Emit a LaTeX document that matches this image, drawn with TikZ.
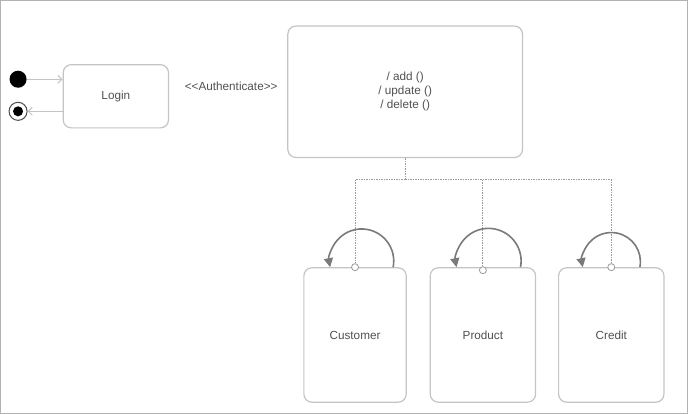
\documentclass[tikz,border=0pt]{standalone}
\usepackage{fontspec}
\setmainfont{Liberation Sans}
\usepackage{xcolor}
\usetikzlibrary{arrows.meta,positioning}

\definecolor{boxline}{HTML}{C4C4C4}
\definecolor{txt}{HTML}{505050}
\definecolor{loopc}{HTML}{7A7A7A}
\definecolor{dashc}{HTML}{9A9A9A}

\begin{document}
\begin{tikzpicture}[x=1pt,y=-1pt,font=\fontsize{11.7}{13.8}\selectfont]
  \tikzstyle{statebox}=[draw=boxline,line width=1.2pt,rounded corners=8pt,text=txt,align=center]
  \tikzstyle{port}=[circle,draw=dashc,fill=white,line width=0.8pt,inner sep=0pt,minimum size=7pt]
  \tikzstyle{flow}=[draw=boxline,line width=1pt,-{Straight Barb[length=4pt,width=8pt]}]
  \tikzstyle{bus}=[draw=dashc,line width=1pt,dash pattern=on 1.5pt off 1pt]
  \tikzstyle{selfloop}=[draw=loopc,line width=1.6pt,-{Triangle[length=9pt,width=9pt]}]

  \draw[draw=black!30,line width=1pt] (1.5,1.5) rectangle (686.5,413);

  \node[circle,fill=black,inner sep=0pt,minimum size=17pt] (start) at (19,80) {};
  \node[circle,draw=black!70,line width=1pt,fill=white,inner sep=0pt,minimum size=18pt,
        path picture={\fill[black] (path picture bounding box.center) circle (5pt);}] (final) at (19,112) {};

  \node[statebox,minimum width=105pt,minimum height=63pt] (login) at (116.5,97) {Login};
  \node[text=txt] (auth) at (231.5,87) {{<}{<}Authenticate{>}{>}};
  \node[statebox,minimum width=234pt,minimum height=131pt] (ops) at (405,92.5) {/ add ()\\/ update ()\\/ delete ()};

  \node[statebox,minimum width=102pt,minimum height=134pt] (customer) at (355,335) {Customer};
  \node[statebox,minimum width=105pt,minimum height=134pt] (product) at (482.5,335) {Product};
  \node[statebox,minimum width=105pt,minimum height=134pt] (credit) at (610.5,335) {Credit};

  \draw[flow] (start) -- (login.west |- start);
  \draw[flow] (login.west |- final) -- (final);

  \coordinate (fork) at (405,180);
  \node[port] (pcust) at (customer.north) {};
  \node[port] (pprod) at ([yshift=-3pt]product.north) {};
  \node[port] (pcred) at (credit.north) {};

  \draw[bus] (ops.south) -- (fork);
  \draw[bus] (fork) -| (pcust);
  \draw[bus] (fork) -| (pprod);
  \draw[bus] (fork) -| (pcred);

  \draw[selfloop] ([xshift=38pt]customer.north) arc[start angle=-11,end angle=191,radius=32pt];
  \draw[selfloop] ([xshift=37.5pt]product.north) arc[start angle=-11,end angle=191,radius=32.5pt];
  \draw[selfloop] ([xshift=28.5pt]credit.north) arc[start angle=-11,end angle=191,radius=29pt];
\end{tikzpicture}
\end{document}
